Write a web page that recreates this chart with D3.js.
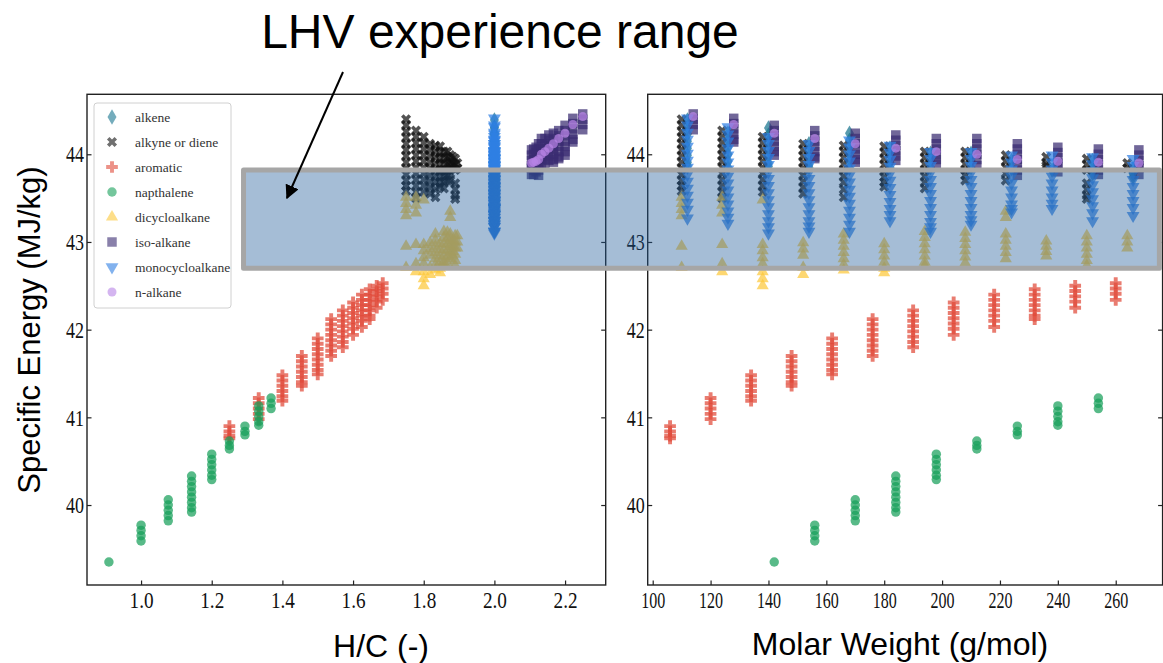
<!DOCTYPE html>
<html>
<head>
<meta charset="utf-8">
<script src="https://cdn.jsdelivr.net/npm/d3@7"></script>
<style>
body { margin: 0; background: #fff; }
svg { display: block; }
.tick text { font-family: "Liberation Serif", "Times New Roman", serif; font-size: 24px; fill: #111; }
.tick line { stroke: #222; stroke-width: 1.2; }
</style>
</head>
<body>
<svg id="chart" width="1163" height="663"></svg>
<script>
// ---- data ----
// alkyne or diene (CnH2n-2), carbon 8..19
var alkyneHC = [1.75, 1.778, 1.8, 1.818, 1.833, 1.846, 1.857, 1.867, 1.875, 1.882, 1.889, 1.895];
var alkyneMW = [110, 124, 138, 152, 166, 180, 194, 208, 222, 236, 250, 264];
var alkyneLHV = [
    [44.40, 44.33, 44.26, 44.19, 44.12, 44.05, 43.98, 43.91, 43.84, 43.77, 43.70, 43.64, 43.58],
    [44.27, 44.20, 44.13, 44.06, 43.99, 43.92, 43.85, 43.78, 43.71, 43.64, 43.57, 43.50],
    [44.20, 44.13, 44.06, 43.99, 43.92, 43.85, 43.78, 43.71, 43.64, 43.57],
    [44.12, 44.05, 43.98, 43.91, 43.84, 43.76, 43.69, 43.62, 43.55],
    [44.10, 44.03, 43.96, 43.89, 43.82, 43.75, 43.68, 43.60, 43.51],
    [44.09, 44.02, 43.95, 43.88, 43.81, 43.74, 43.68, 43.63],
    [44.03, 43.96, 43.89, 43.82, 43.75, 43.68, 43.61],
    [44.03, 43.96, 43.89, 43.82, 43.76, 43.70],
    [43.99, 43.92, 43.85, 43.78, 43.70],
    [43.97, 43.90, 43.87],
    [43.95, 43.88, 43.82, 43.67, 43.60, 43.53, 43.49],
    [43.90, 43.84]
];
// dicycloalkane, same formulas as alkyne
var dicycloLHV = [
    [43.51, 43.44, 43.37, 43.30, 42.95, 42.71],
    [43.51, 43.42, 43.33, 42.97, 42.75, 42.66],
    [43.48, 42.97, 42.90, 42.82, 42.75, 42.66, 42.58, 42.50],
    [42.99, 42.92, 42.85, 42.71, 42.63],
    [43.09, 43.02, 42.95, 42.88, 42.81, 42.74, 42.68],
    [42.98, 42.91, 42.84, 42.77, 42.70, 42.65],
    [43.12, 43.05, 42.98, 42.91, 42.84, 42.77, 42.73],
    [43.11, 43.04, 42.97, 42.90, 42.83, 42.76],
    [43.35, 43.28, 43.09, 43.02, 42.95, 42.88, 42.81],
    [43.01, 42.95, 42.89, 42.84],
    [43.07, 43.00, 42.93, 42.86, 42.79, 42.73],
    [43.07, 43.00, 42.93]
];
// alkene and monocycloalkane (CnH2n)
var cnh2nHC = [2.0, 2.0, 2.0, 2.0, 2.0, 2.0, 2.0, 2.0, 2.0, 2.0, 2.0, 2.0];
var cnh2nMW = [112, 126, 140, 154, 168, 182, 196, 210, 224, 238, 252, 266];
var alkeneLHV = [
    [44.39, 44.31, 44.23, 44.15, 44.07, 43.99, 43.91, 43.87],
    [44.24, 44.16, 44.08, 44.00, 43.92, 43.85],
    [44.30, 44.22, 44.14, 44.06, 43.98, 43.90, 43.86],
    [44.12, 44.04, 43.96, 43.88, 43.85],
    [44.24, 44.16, 44.08, 44.00, 43.92, 43.84],
    [44.07, 43.99, 43.91, 43.85],
    [44.01, 43.93, 43.85],
    [44.01, 43.93, 43.85],
    [43.93, 43.84],
    [43.82],
    [43.93, 43.85, 43.78],
    [43.84, 43.78, 43.74]
];
var monocycloLHV = [
    [44.41, 44.33, 44.25, 44.17, 44.09, 44.01, 43.93, 43.85, 43.77, 43.69, 43.61, 43.53, 43.45, 43.37, 43.27],
    [44.31, 44.23, 44.15, 44.07, 43.99, 43.91, 43.83, 43.75, 43.67, 43.59, 43.51, 43.43, 43.35, 43.28, 43.21],
    [44.20, 44.12, 44.04, 43.96, 43.88, 43.80, 43.72, 43.64, 43.56, 43.48, 43.40, 43.32, 43.24, 43.17, 43.10],
    [44.12, 44.04, 43.96, 43.88, 43.80, 43.72, 43.64, 43.56, 43.48, 43.40, 43.32, 43.24, 43.18, 43.12],
    [44.16, 44.08, 44.00, 43.92, 43.84, 43.76, 43.68, 43.60, 43.52, 43.44, 43.36, 43.28, 43.20, 43.12],
    [44.10, 44.02, 43.94, 43.86, 43.78, 43.70, 43.62, 43.54, 43.46, 43.38, 43.31, 43.24],
    [44.03, 43.95, 43.87, 43.79, 43.71, 43.63, 43.55, 43.47, 43.39, 43.31, 43.23, 43.17, 43.12],
    [44.03, 43.95, 43.87, 43.79, 43.71, 43.63, 43.55, 43.47, 43.39, 43.31, 43.25, 43.20],
    [43.99, 43.91, 43.83, 43.75, 43.67, 43.59, 43.51, 43.43, 43.38, 43.34],
    [43.99, 43.91, 43.83, 43.75, 43.67, 43.59, 43.51, 43.44, 43.38],
    [43.97, 43.89, 43.81, 43.73, 43.65, 43.57, 43.49, 43.41, 43.33, 43.24],
    [43.95, 43.87, 43.79, 43.71, 43.63, 43.55, 43.47, 43.39, 43.30]
];
// iso-alkane and n-alkane (CnH2n+2)
var alkaneHC = [2.25, 2.222, 2.2, 2.182, 2.167, 2.154, 2.143, 2.133, 2.125, 2.118, 2.111, 2.105];
var alkaneMW = [114, 128, 142, 156, 170, 184, 198, 212, 226, 240, 254, 268];
var isoLHV = [
    [44.46, 44.40, 44.34, 44.28],
    [44.41, 44.35, 44.29, 44.23, 44.17, 44.14],
    [44.33, 44.27, 44.21, 44.15, 44.09, 44.03, 43.99],
    [44.27, 44.21, 44.15, 44.09, 44.03, 43.97, 43.95],
    [44.24, 44.18, 44.12, 44.06, 44.00, 43.94, 43.91],
    [44.22, 44.16, 44.10, 44.04, 43.98, 43.93],
    [44.18, 44.12, 44.06, 44.00, 43.94, 43.89],
    [44.18, 44.12, 44.06, 44.00, 43.94, 43.87],
    [44.12, 44.06, 44.00, 43.94, 43.88, 43.82, 43.76],
    [44.08, 44.02, 43.96, 43.90, 43.86, 43.80],
    [44.06, 44.00, 43.94, 43.88, 43.82, 43.77],
    [44.05, 43.99, 43.93, 43.87, 43.84, 43.77]
];
var nAlkaneLHV = [
    [44.43], [44.34], [44.24], [44.18], [44.12], [44.07],
    [44.03], [44.00], [43.94], [43.92], [43.91], [43.90]
];
// aromatic (CnH2n-6), carbon 8..19
var aromaticHC = [1.25, 1.333, 1.4, 1.455, 1.5, 1.538, 1.571, 1.6, 1.625, 1.647, 1.667, 1.684];
var aromaticMW = [106, 120, 134, 148, 162, 176, 190, 204, 218, 232, 246, 260];
var aromaticLHV = [
    [40.90, 40.84, 40.79, 40.76],
    [41.22, 41.16, 41.10, 41.04, 40.98],
    [41.48, 41.42, 41.36, 41.30, 41.24, 41.19],
    [41.70, 41.64, 41.58, 41.52, 41.46, 41.40, 41.36],
    [41.90, 41.84, 41.78, 41.72, 41.66, 41.60, 41.54, 41.49],
    [42.12, 42.06, 42.00, 41.94, 41.88, 41.82, 41.76, 41.70],
    [42.22, 42.16, 42.10, 42.04, 41.98, 41.92, 41.86, 41.80],
    [42.31, 42.25, 42.19, 42.13, 42.07, 42.01, 41.94],
    [42.40, 42.34, 42.28, 42.22, 42.16, 42.10, 42.03],
    [42.46, 42.40, 42.34, 42.28, 42.22, 42.16, 42.12],
    [42.50, 42.44, 42.38, 42.32, 42.25],
    [42.53, 42.47, 42.41, 42.34]
];
// napthalene (CnH2n-12), carbon 11..19
var napthHC = [0.909, 1.0, 1.077, 1.143, 1.2, 1.25, 1.294, 1.333, 1.368];
var napthMW = [142, 156, 170, 184, 198, 212, 226, 240, 254];
var napthLHV = [
    [39.35],
    [39.77, 39.71, 39.65, 39.59],
    [40.06, 40.00, 39.94, 39.88, 39.82],
    [40.33, 40.27, 40.21, 40.15, 40.09, 40.03, 39.97, 39.92],
    [40.58, 40.52, 40.46, 40.40, 40.34, 40.29],
    [40.73, 40.68, 40.64],
    [40.90, 40.84, 40.80],
    [41.13, 41.07, 41.01, 40.95, 40.91],
    [41.22, 41.16, 41.10]
];

var yTicks = [40, 41, 42, 43, 44];
var hcTicks = [1.0, 1.2, 1.4, 1.6, 1.8, 2.0, 2.2];
var mwTicks = [100, 120, 140, 160, 180, 200, 220, 240, 260];
var lhvRange = [42.7, 43.82];

// ---- series table, legend order = drawing order ----
var series = [
    { name: "alkene", hc: cnh2nHC, mw: cnh2nMW, lhv: alkeneLHV, color: "#17758f", type: d3.symbolDiamond, size: 70, rot: 0 },
    { name: "alkyne or diene", hc: alkyneHC, mw: alkyneMW, lhv: alkyneLHV, color: "#111111", type: d3.symbolCross, size: 64, rot: 45 },
    { name: "aromatic", hc: aromaticHC, mw: aromaticMW, lhv: aromaticLHV, color: "#e04a39", type: d3.symbolCross, size: 76, rot: 0 },
    { name: "napthalene", hc: napthHC, mw: napthMW, lhv: napthLHV, color: "#17a05a", type: d3.symbolCircle, size: 70, rot: 0 },
    { name: "dicycloalkane", hc: alkyneHC, mw: alkyneMW, lhv: dicycloLHV, color: "#fcc83a", type: d3.symbolTriangle, size: 64, rot: 0 },
    { name: "iso-alkane", hc: alkaneHC, mw: alkaneMW, lhv: isoLHV, color: "#3a2c72", type: d3.symbolSquare, size: 90, rot: 0 },
    { name: "monocycloalkane", hc: cnh2nHC, mw: cnh2nMW, lhv: monocycloLHV, color: "#2f7fe3", type: d3.symbolTriangle, size: 72, rot: 180 },
    { name: "n-alkane", hc: alkaneHC, mw: alkaneMW, lhv: nAlkaneLHV, color: "#b883e6", type: d3.symbolCircle, size: 64, rot: 0 }
];

var points = [];
series.forEach(function(s) {
    s.hc.forEach(function(h, i) {
        s.lhv[i].forEach(function(v) {
            points.push({ s: s, hc: h, mw: s.mw[i], lhv: v });
        });
    });
});

var svg = d3.select("#chart");

var y = d3.scaleLinear().domain([39.088, 44.684]).range([585, 94.3]);
var xHC = d3.scaleLinear().domain([0.847, 2.315]).range([87, 605.7]);
var xMW = d3.scaleLinear().domain([98.27, 276.2]).range([647.7, 1162.6]);

function symbolPath(s) {
    return d3.symbol().type(s.type).size(s.size)();
}

function drawPanel(x, key, ticks, fmt) {
    var g = svg.append("g");

    g.append("g")
        .selectAll("path")
        .data(points)
        .enter().append("path")
        .attr("d", function(d) { return symbolPath(d.s); })
        .attr("transform", function(d) {
            return "translate(" + x(d[key]) + "," + y(d.lhv) + ") rotate(" + d.s.rot + ")";
        })
        .style("fill", function(d) { return d.s.color; })
        .style("fill-opacity", 0.72);

    var r = x.range();
    g.append("rect")
        .attr("x", r[0])
        .attr("y", y.range()[1])
        .attr("width", r[1] - r[0])
        .attr("height", y.range()[0] - y.range()[1])
        .style("fill", "none")
        .style("stroke", "#222")
        .style("stroke-width", 1.4);

    var xa = g.append("g")
        .attr("transform", "translate(0," + y.range()[0] + ")")
        .call(d3.axisBottom(x).tickValues(ticks).tickSize(-4.5).tickPadding(6).tickFormat(fmt));
    xa.select(".domain").remove();
    xa.selectAll("text").attr("textLength", 24).attr("lengthAdjust", "spacingAndGlyphs");

    var ya = g.append("g")
        .attr("transform", "translate(" + r[0] + ",0)")
        .call(d3.axisLeft(y).tickValues(yTicks).tickSize(-4.5).tickPadding(3).tickFormat(d3.format("d")));
    ya.select(".domain").remove();
    ya.selectAll("text").attr("textLength", 18).attr("lengthAdjust", "spacingAndGlyphs");

    var yr = g.append("g")
        .attr("transform", "translate(" + r[1] + ",0)")
        .call(d3.axisRight(y).tickValues(yTicks).tickSize(-4.5).tickFormat(""));
    yr.select(".domain").remove();
}

drawPanel(xHC, "hc", hcTicks, d3.format(".1f"));
drawPanel(xMW, "mw", mwTicks, d3.format("d"));

// legend
var legend = svg.append("g");
legend.append("rect")
    .attr("x", 94).attr("y", 103)
    .attr("width", 137).attr("height", 205)
    .attr("rx", 3)
    .style("fill", "#fff")
    .style("fill-opacity", 0.85)
    .style("stroke", "#d0d0d0")
    .style("stroke-width", 1);
var row = legend.selectAll("g.row")
    .data(series)
    .enter().append("g")
    .attr("class", "row")
    .attr("transform", function(d, i) { return "translate(0," + (117 + i * 25) + ")"; });
row.append("path")
    .attr("d", function(d) { return symbolPath(d); })
    .attr("transform", function(d) { return "translate(112,0) rotate(" + d.rot + ")"; })
    .style("fill", function(d) { return d.color; })
    .style("fill-opacity", 0.6);
row.append("text")
    .attr("x", 135)
    .attr("y", 4.5)
    .text(function(d) { return d.name; })
    .style("font-family", "Liberation Serif, serif")
    .style("font-size", "13.5px")
    .style("fill", "#333");

// LHV experience range box, spanning both panels
var bx0 = xHC(1.29), bx1 = xMW(275.1);
svg.append("rect")
    .attr("x", bx0)
    .attr("y", y(lhvRange[1]))
    .attr("width", bx1 - bx0)
    .attr("height", y(lhvRange[0]) - y(lhvRange[1]))
    .style("fill", "#1f5a99")
    .style("fill-opacity", 0.4)
    .style("stroke", "#a6a6a6")
    .style("stroke-width", 5)
    .style("stroke-linejoin", "round");

// title + arrow
svg.append("defs").append("marker")
    .attr("id", "head")
    .attr("viewBox", "0 0 10 10")
    .attr("refX", 9).attr("refY", 5)
    .attr("markerWidth", 7).attr("markerHeight", 7)
    .attr("orient", "auto")
    .append("path")
    .attr("d", "M0,0 L10,5 L0,10 z")
    .style("fill", "#000");

svg.append("line")
    .attr("x1", 343).attr("y1", 72)
    .attr("x2", 287).attr("y2", 198)
    .style("stroke", "#000")
    .style("stroke-width", 2)
    .attr("marker-end", "url(#head)");

svg.append("text")
    .attr("x", 500).attr("y", 48)
    .attr("text-anchor", "middle")
    .text("LHV experience range")
    .style("font-family", "Liberation Sans, Arial, sans-serif")
    .style("font-size", "48px");

// axis titles
svg.append("text")
    .attr("transform", "translate(40,330) rotate(-90)")
    .attr("text-anchor", "middle")
    .text("Specific Energy (MJ/kg)")
    .style("font-family", "Liberation Sans, Arial, sans-serif")
    .style("font-size", "31px");

svg.append("text")
    .attr("x", 381).attr("y", 657)
    .attr("text-anchor", "middle")
    .text("H/C (-)")
    .style("font-family", "Liberation Sans, Arial, sans-serif")
    .style("font-size", "32px");

svg.append("text")
    .attr("x", 900).attr("y", 655)
    .attr("text-anchor", "middle")
    .text("Molar Weight (g/mol)")
    .style("font-family", "Liberation Sans, Arial, sans-serif")
    .style("font-size", "32px");
</script>
</body>
</html>
